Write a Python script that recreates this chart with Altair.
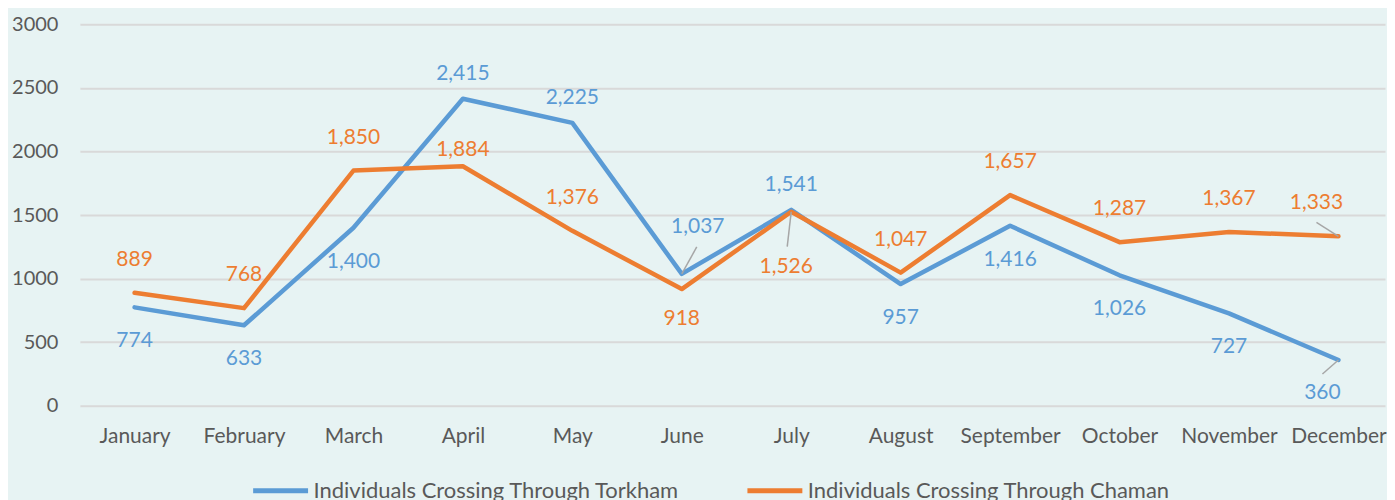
import altair as alt
import pandas as pd

months = ["January", "February", "March", "April", "May", "June", "July",
          "August", "September", "October", "November", "December"]
torkham = [774, 633, 1400, 2415, 2225, 1037, 1541, 957, 1416, 1026, 727, 360]
chaman = [889, 768, 1850, 1884, 1376, 918, 1526, 1047, 1657, 1287, 1367, 1333]
series_names = ["Individuals Crossing Through Torkham", "Individuals Crossing Through Chaman"]
y_ticks = [0, 500, 1000, 1500, 2000, 2500, 3000]

# label placement names per point
torkham_place = ["below", "below", "below", "above", "above", "callout_ne", "above",
                 "below", "below", "below", "below", "callout_sw"]
chaman_place = ["above", "above", "above", "above_near", "above", "below", "callout_s",
                "above", "above", "above", "above", "callout_nw"]

BLUE = "#5B9BD5"
ORANGE = "#ED7D31"
TEXT = "#595959"
BG = "#E7F3F3"
FONT = "Lato"

# (dx, dy, leader end offset or None) per series / placement
placements = {
    (series_names[0], "above"): (0, -25, None),
    (series_names[0], "below"): (0, 34, None),
    (series_names[0], "callout_ne"): (16, -47, (15, -27)),
    (series_names[0], "callout_sw"): (-16, 33, (-16, 14)),
    (series_names[1], "above"): (0, -33, None),
    (series_names[1], "above_near"): (0, -16, None),
    (series_names[1], "below"): (0, 30, None),
    (series_names[1], "callout_s"): (-5, 55, (-4, 35)),
    (series_names[1], "callout_nw"): (-22, -33, (-22, -14)),
}

rows = []
for m, v, p in zip(months, torkham, torkham_place):
    rows.append({"month": m, "series": series_names[0], "value": v, "place": p})
for m, v, p in zip(months, chaman, chaman_place):
    rows.append({"month": m, "series": series_names[1], "value": v, "place": p})
df = pd.DataFrame(rows)

W, H = 1307, 382
x_enc = alt.X("month:N", sort=months,
              scale=alt.Scale(type="point", padding=0.4626, align=0.54),
              axis=alt.Axis(title=None, labelAngle=0, domain=False, ticks=False,
                            labelFontSize=21, labelColor=TEXT, labelFont=FONT,
                            labelPadding=20, grid=False))
y_enc = alt.Y("value:Q", scale=alt.Scale(domain=[0, 3000], nice=False),
              axis=alt.Axis(title=None, values=y_ticks, format="d", domain=False, ticks=False,
                            labelFontSize=20, labelColor=TEXT, labelFont=FONT,
                            labelPadding=22, grid=True, gridColor="#D9D9D9",
                            gridWidth=2, minExtent=72, maxExtent=72))

base = alt.Chart(df)

lines = base.mark_line(strokeWidth=4.5, strokeCap="round", strokeJoin="round").encode(
    x=x_enc, y=y_enc,
    color=alt.Color("series:N", scale=alt.Scale(domain=series_names, range=[BLUE, ORANGE]),
                    legend=alt.Legend(title=None, orient="none", legendX=171, legendY=437,
                                      direction="horizontal", columns=2,
                                      symbolType="stroke", symbolSize=3025,
                                      symbolStrokeWidth=5, labelFontSize=22,
                                      labelColor=TEXT, labelFont=FONT, labelOffset=3,
                                      columnPadding=57, labelLimit=500)),
    detail="series:N",
)

layers = [lines]
for (s, p), (dx, dy, leader) in placements.items():
    col = BLUE if s == series_names[0] else ORANGE
    sub = base.transform_filter((alt.datum.series == s) & (alt.datum.place == p))
    layers.append(sub.mark_text(dx=dx, dy=dy, fontSize=21, font=FONT, color=col,
                                baseline="middle", align="center").encode(
        x=alt.X("month:N", sort=months), y="value:Q",
        text=alt.Text("value:Q", format=",")))
    if leader is not None:
        layers.append(sub.mark_rule(color="#A6A6A6", strokeWidth=1.5,
                                    x2Offset=leader[0], y2Offset=leader[1]).encode(
            x=alt.X("month:N", sort=months), y="value:Q",
            x2=alt.X2("month:N"), y2=alt.Y2("value:Q")))

chart = alt.layer(*layers).properties(
    width=W, height=H, background=BG,
    padding={"left": 0, "top": 6, "right": 0, "bottom": 0}
).configure_view(stroke=None)

chart.save("out.html", embed_options={"renderer": "svg", "actions": False})
